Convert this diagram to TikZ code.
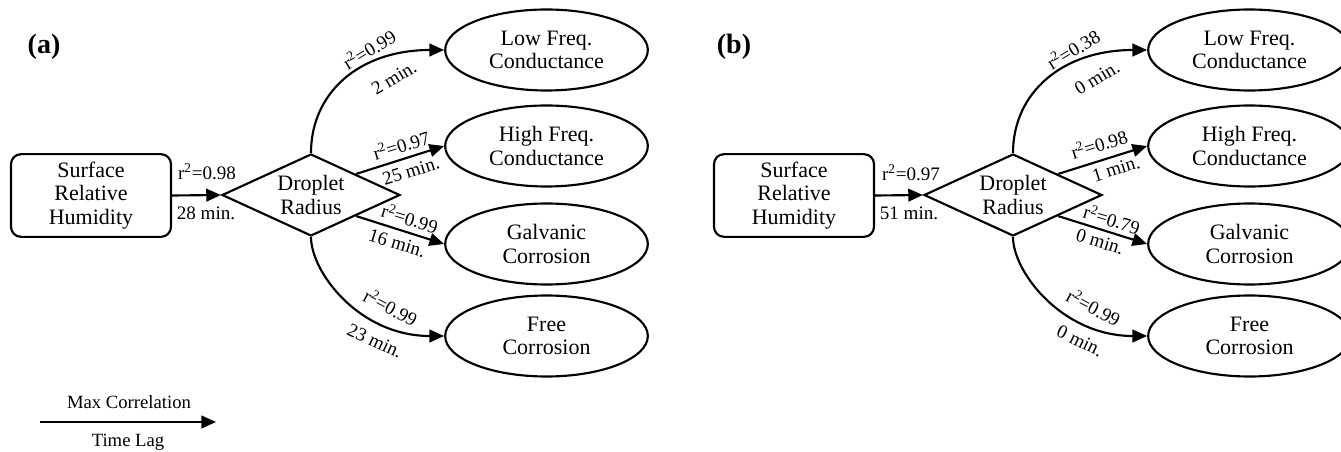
\documentclass[tikz,border=0pt]{standalone}
\usepackage{fontspec}
\setmainfont{Liberation Serif}
\usetikzlibrary{shapes.geometric,arrows.meta}
\newcommand\dgnode{\fontsize{16.5}{17.6}\selectfont}
\newcommand\dglab{\fontsize{14.3}{16}\selectfont}
\newcommand\dgleg{\fontsize{14}{16}\selectfont}
\newcommand\dgpanel{\fontsize{21}{24}\selectfont\bfseries}
\begin{document}
\begin{tikzpicture}[x=0.75pt,y=-0.75pt,
  conn/.style={line width=1.6pt,-{Triangle[length=11pt,width=9.5pt]}},
  srcbox/.style={draw,line width=1.6pt,rounded corners=7.5pt,minimum width=120pt,minimum height=62pt,inner sep=0pt,align=center,font=\dgnode},
  dropdia/.style={draw,line width=1.6pt,diamond,aspect=2.17,minimum width=133.5pt,minimum height=61.5pt,inner sep=0pt,align=center,font=\dgnode},
  outell/.style={draw,line width=1.6pt,ellipse,minimum width=152pt,minimum height=60.75pt,inner sep=0pt,align=center,font=\dgnode},
  lab/.style={font=\dglab,inner sep=0pt},
  leg/.style={font=\dgleg,inner sep=0pt},
  panel/.style={font=\dgpanel,inner sep=0pt}]
\useasboundingbox (0,0) rectangle (1341,452);
\clip (0,0) rectangle (1341,452);

% ---------------- panel (a) ----------------
\node[panel] (pa) at (44,47) {(a)};
\node[srcbox] (ra) at (91,195.5) {Surface\\Relative\\Humidity};
\node[dropdia] (da) at (311,195) {Droplet\\Radius};
\node[outell] (la) at (546.5,50) {Low Freq.\\Conductance};
\node[outell] (ha) at (546.5,146) {High Freq.\\Conductance};
\node[outell] (ga) at (546.5,244) {Galvanic\\Corrosion};
\node[outell] (fa) at (546.5,336) {Free\\Corrosion};

\draw[conn] (ra.east) -- (da.west);
\draw[conn] (da.north) .. controls +(0,-60) and +(-85,0) .. (la.west);
\draw[conn] (da.north east) -- (ha.west);
\draw[conn] (da.south east) -- (ga.west);
\draw[conn] (da.south) .. controls +(0,35) and +(-85,0) .. (fa.west);

\node[lab] (a1) at (207,172) {r\textsuperscript{2}=0.98};
\node[lab] (a2) at (206,213) {28 min.};
\node[lab,rotate=31] (a3) at (369,49) {r\textsuperscript{2}=0.99};
\node[lab,rotate=31] (a4) at (394,78) {2 min.};
\node[lab,rotate=17] (a5) at (401,145) {r\textsuperscript{2}=0.97};
\node[lab,rotate=17] (a6) at (411,171) {25 min.};
\node[lab,rotate=-17] (a7) at (410,218) {r\textsuperscript{2}=0.99};
\node[lab,rotate=-17] (a8) at (397,243) {16 min.};
\node[lab,rotate=-28] (a9) at (391,307) {r\textsuperscript{2}=0.99};
\node[lab,rotate=-25] (a10) at (375,341) {23 min.};

% legend
\coordinate (lgs) at (40,422);
\coordinate (lge) at (216,422);
\draw[conn] (lgs) -- (lge);
\node[leg] (lg1) at (129,402) {Max Correlation};
\node[leg] (lg2) at (128,442) {Time Lag};

% ---------------- panel (b) ----------------
\node[panel] (pb) at (734,47) {(b)};
\node[srcbox] (rb) at (794,195.5) {Surface\\Relative\\Humidity};
\node[dropdia] (db) at (1013,195) {Droplet\\Radius};
\node[outell] (lb) at (1249.5,50) {Low Freq.\\Conductance};
\node[outell] (hb) at (1249.5,146) {High Freq.\\Conductance};
\node[outell] (gb) at (1249.5,244) {Galvanic\\Corrosion};
\node[outell] (fb) at (1249.5,336) {Free\\Corrosion};

\draw[conn] (rb.east) -- (db.west);
\draw[conn] (db.north) .. controls +(0,-60) and +(-85,0) .. (lb.west);
\draw[conn] (db.north east) -- (hb.west);
\draw[conn] (db.south east) -- (gb.west);
\draw[conn] (db.south) .. controls +(0,35) and +(-85,0) .. (fb.west);

\node[lab] (b1) at (911,173) {r\textsuperscript{2}=0.97};
\node[lab] (b2) at (909,213) {51 min.};
\node[lab,rotate=31] (b3) at (1073,49) {r\textsuperscript{2}=0.38};
\node[lab,rotate=31] (b4) at (1097,78) {0 min.};
\node[lab,rotate=17] (b5) at (1099,144) {r\textsuperscript{2}=0.98};
\node[lab,rotate=17] (b6) at (1116,169) {1 min.};
\node[lab,rotate=-17] (b7) at (1112,219) {r\textsuperscript{2}=0.79};
\node[lab,rotate=-17] (b8) at (1100,242) {0 min.};
\node[lab,rotate=-28] (b9) at (1094,307) {r\textsuperscript{2}=0.99};
\node[lab,rotate=-26] (b10) at (1080,341) {0 min.};
\end{tikzpicture}
\end{document}
